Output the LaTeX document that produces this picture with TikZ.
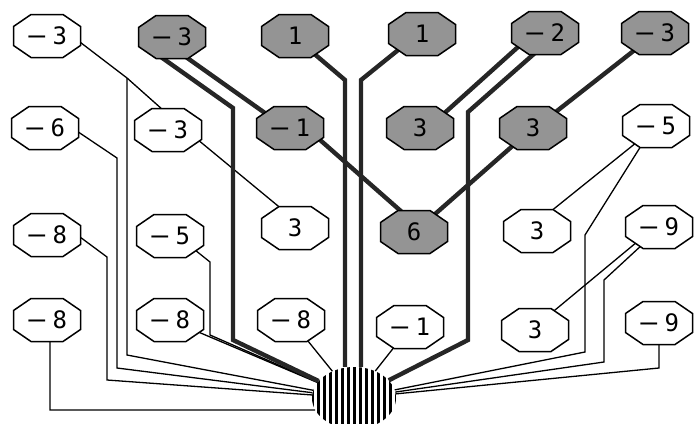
\documentclass[tikz,border=0pt]{standalone}
\usepackage{fontspec}
\newfontfamily\pixfont{DejaVu Sans Mono}
\usetikzlibrary{calc,shapes.geometric}
\pgfdeclarelayer{edgelayer}
\pgfdeclarelayer{shapelayer}
\pgfsetlayers{edgelayer,shapelayer,main}
\newcommand\mymin{\scalebox{1.35}[1]{−}\kern6pt}
\begin{document}
\begin{tikzpicture}[x=1pt,y=-1pt,
  oct/.style={rectangle, minimum width=68pt, minimum height=44pt, inner sep=0pt,
    font=\pixfont\fontsize{24}{24}\selectfont},
  pv/.style={oct},
  octline/.style={draw=black, line width=1.5pt},
  eline/.style={line width=1.3pt, black},
  pline/.style={line width=4.4pt, black!85},
  rootnode/.style={ellipse, minimum width=84pt, minimum height=62pt, inner sep=0pt,
    path picture={\foreach \s in {-42,-36,...,42}
      \draw[line width=3pt] ([xshift=\s pt]path picture bounding box.north) -- ([xshift=\s pt]path picture bounding box.south);}}
]
\useasboundingbox (0,0) rectangle (695,423);
% row 1
\node[oct] (A) at (47,36) {\mymin3};
\node[pv]  (B) at (172,37) {\mymin3};
\node[pv]  (C) at (295,36) {1};
\node[pv]  (D) at (422,34) {1};
\node[pv]  (E) at (545,33) {\mymin2};
\node[pv]  (F) at (655,33) {\mymin3};
% row 2
\node[oct] (G) at (45,128) {\mymin6};
\node[oct] (H) at (168,130) {\mymin3};
\node[pv]  (I) at (290,128) {\mymin1};
\node[pv]  (J) at (420,128) {3};
\node[pv]  (K) at (533,128) {3};
\node[oct] (L) at (656,126) {\mymin5};
% row 3
\node[oct] (M) at (47,235) {\mymin8};
\node[oct] (N) at (170,236) {\mymin5};
\node[oct] (O) at (295,228) {3};
\node[pv]  (P) at (414,232) {6};
\node[oct] (Q) at (537,231) {3};
\node[oct] (R) at (659,227) {\mymin9};
% row 4
\node[oct] (S) at (47,320) {\mymin8};
\node[oct] (T) at (170,320) {\mymin8};
\node[oct] (U) at (291,320) {\mymin8};
\node[oct] (V) at (410,327) {\mymin1};
\node[oct] (W) at (535,330) {3};
\node[oct] (X) at (659,323) {\mymin9};
% root
\node[rootnode] (root) at (354,398) {};
% octagon outlines
\begin{pgfonlayer}{shapelayer}
  \foreach \n/\c in {A/white,G/white,H/white,L/white,M/white,N/white,O/white,Q/white,
      R/white,S/white,T/white,U/white,V/white,W/white,X/white,
      B/black!42,C/black!42,D/black!42,E/black!42,F/black!42,I/black!42,J/black!42,K/black!42,P/black!42}
    \filldraw[octline, fill=\c]
      ($(\n.center)+(-16,-21.5)$) -- ($(\n.center)+(16,-21.5)$) -- ($(\n.center)+(33.5,-9.5)$)
      -- ($(\n.center)+(33.5,9.5)$) -- ($(\n.center)+(16,21.5)$) -- ($(\n.center)+(-16,21.5)$)
      -- ($(\n.center)+(-33.5,9.5)$) -- ($(\n.center)+(-33.5,-9.5)$) -- cycle;
\end{pgfonlayer}
% junctions
\coordinate (ja) at (127,78);  \coordinate (ja2) at (127,355);
\coordinate (jg1) at (117,158); \coordinate (jg2) at (117,368);
\coordinate (jm1) at (107,257); \coordinate (jm2) at (107,380);
\coordinate (js) at (50,410);
\coordinate (jn1) at (210,262); \coordinate (jn2) at (210,335);
\coordinate (jb1) at (233,108); \coordinate (jb2) at (233,340);
\coordinate (jc) at (345,80);
\coordinate (jd) at (361,80);
\coordinate (je1) at (468,112); \coordinate (je2) at (468,340);
\coordinate (jl1) at (585,235); \coordinate (jl2) at (585,352);
\coordinate (jr1) at (604,280); \coordinate (jr2) at (604,362);
\coordinate (jx) at (659,368);
\begin{pgfonlayer}{edgelayer}
  % thin edges
  \draw[eline] ($(A.center)+(8,-13)$) -- (ja) -- ($(H.center)+(4,-12)$);
  \draw[eline] (ja) -- (ja2) -- (root);
  \draw[eline] ($(G.center)+(5,-15)$) -- (jg1) -- (jg2) -- (root);
  \draw[eline] ($(M.center)+(10,-15)$) -- (jm1) -- (jm2) -- (root);
  \draw[eline] ($(S.center)+(3,0)$) -- (js) -- (root.197);
  \draw[eline] ($(H.center)+(12,-5)$) -- ($(O.center)+(0,-8)$);
  \draw[eline] ($(N.center)+(20,10)$) -- (jn1) -- (jn2) -- (root);
  \draw[eline] (T.center) -- (root);
  \draw[eline] (U.center) -- (root);
  \draw[eline] (V.center) -- (root);
  \draw[eline] ($(L.center)+(-4,4)$) -- ($(Q.center)+(3,-11)$);
  \draw[eline] ($(L.center)+(-5,4)$) -- (jl1) -- (jl2) -- (root);
  \draw[eline] ($(R.center)+(-10,5)$) -- ($(W.center)+(8,-10)$);
  \draw[eline] ($(R.center)+(-3,5)$) -- (jr1) -- (jr2) -- (root);
  \draw[eline] (X.center) -- (jx) -- (root);
  % principal (thick) edges
  \draw[pline] ($(B.center)+(-28,8)$) -- (jb1) -- (jb2) -- (root);
  \draw[pline] ($(B.center)+(-3,8)$) -- ($(I.center)+(-18,-10)$);
  \draw[pline] ($(C.center)+(3,4)$) -- (jc) -- (jc |- root.north);
  \draw[pline] ($(D.center)+(-9,4)$) -- (jd) -- (jd |- root.north);
  \draw[pline] ($(E.center)+(-17,5)$) -- ($(J.center)+(19,-10)$);
  \draw[pline] ($(E.center)+(7,5)$) -- (je1) -- (je2) -- (root);
  \draw[pline] ($(F.center)+(-5,5)$) -- ($(K.center)+(15,-10)$);
  \draw[pline] ($(K.center)+(-8,7)$) -- ($(P.center)+(12,-10)$);
  \draw[pline] ($(I.center)+(21,4)$) -- ($(P.center)+(-3,-12)$);
\end{pgfonlayer}
\end{tikzpicture}
\end{document}
